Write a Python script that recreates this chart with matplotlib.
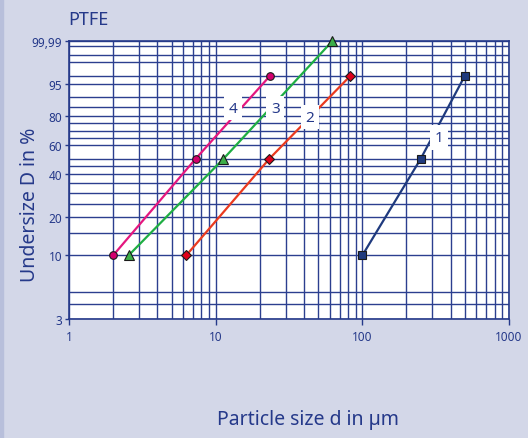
import numpy as np
import matplotlib
matplotlib.use("Agg")
import matplotlib.pyplot as plt
from matplotlib.patches import Rectangle

# ---- data ----
s1_x = [100, 250, 500]
s1_y = [10, 50, 97]
s2_x = [6.3, 23.2, 83]
s2_y = [10, 50, 97]
s3_x = [2.55, 11.3, 62.5]
s3_y = [10, 50, 99.9]
s4_x = [2.0, 7.3, 23.5]
s4_y = [10, 50, 97]

labels = ["1", "2", "3", "4"]
label_pos = [(335, 65), (44, 79), (25.5, 84.5), (13.1, 84.5)]

y_ticks = [3, 10, 20, 40, 60, 80, 95, 99.9]
y_ticklabels = ["3", "10", "20", "40", "60", "80", "95", "99,99"]
x_ticks = [1, 10, 100, 1000]
x_ticklabels = ["1", "10", "100", "1000"]
y_grid = [3, 4, 5, 10, 15, 20, 25, 30, 35, 40, 45, 50, 60, 65, 70, 75, 80,
          85, 90, 95, 97, 99, 99.5, 99.8, 99.9]
x_grid = [m * 10 ** e for e in range(0, 3) for m in range(1, 10)] + [1000]

BG = "#d3d7e8"
NAVY = "#25398a"
GRID = "#2c3f8f"

plt.rcParams['font.family'] = ['Noto Sans', 'DejaVu Sans']


def fwd(p):
    p = np.clip(np.asarray(p, dtype=float), 1e-6, 99.99999)
    return np.log(-np.log(1 - p / 100.0))


def inv(t):
    t = np.asarray(t, dtype=float)
    return 100.0 * (1 - np.exp(-np.exp(t)))


fig = plt.figure(figsize=(5.28, 4.39), dpi=100, facecolor=BG)
fig.patches.append(Rectangle((0, 0), 3 / 528, 1, transform=fig.transFigure,
                             color="#b8bfdb", zorder=0))
ax = fig.add_axes([69 / 528, 1 - 320 / 439, 440 / 528, 278 / 439])
ax.set_facecolor("white")
ax.set_xscale("log")
ax.set_yscale("function", functions=(fwd, inv))
ax.set_xlim(1, 1000)
ax.set_ylim(3, 99.9)

for g in y_grid:
    ax.axhline(g, color=GRID, lw=1.0, zorder=1)
for g in x_grid:
    ax.axvline(g, color=GRID, lw=1.0, zorder=1)

series = [
    (s1_x, s1_y, "#1f3a7e", "s", "#1f3a7e", 5.8),
    (s2_x, s2_y, "#ea3a1f", "D", "#e0001b", 5),
    (s3_x, s3_y, "#1fae43", "^", "#3cae48", 6.5),
    (s4_x, s4_y, "#e4177f", "o", "#d4006e", 5.5),
]
for xs, ys, lc, mk, mc, ms in series:
    ax.plot(xs, ys, color=lc, lw=1.6, zorder=3)
    ax.plot(xs, ys, linestyle="none", marker=mk, markersize=ms,
            markerfacecolor=mc, markeredgecolor="#1a1a1a", markeredgewidth=0.8,
            zorder=5, clip_on=False)

for lab, (lx, ly) in zip(labels, label_pos):
    ax.text(lx, ly, lab, color=NAVY, fontsize=11, ha="center", va="center", zorder=6,
            bbox=dict(boxstyle="square,pad=0.3", facecolor="white", edgecolor="none"))

ax.set_yticks(y_ticks)
ax.set_yticklabels(y_ticklabels)
ax.set_xticks(x_ticks)
ax.set_xticklabels(x_ticklabels)
ax.minorticks_off()
ax.tick_params(axis="y", colors=NAVY, labelsize=8.5, length=3, width=1, pad=2)
ax.tick_params(axis="x", colors=NAVY, labelsize=8.5, length=4, width=1, pad=4)
for sp in ax.spines.values():
    sp.set_color(NAVY)
    sp.set_linewidth(1.2)

fig.text(68 / 528, 1 - 20 / 439, "PTFE", color=NAVY, fontsize=13, ha="left", va="center")
fig.text(30 / 528, 1 - 205 / 439, "Undersize D in %", color=NAVY, fontsize=14,
         rotation=90, ha="center", va="center")
fig.text(308 / 528, 1 - 420 / 439, "Particle size d in µm", color=NAVY, fontsize=14,
         ha="center", va="center")

fig.savefig("out.png", dpi=100, facecolor=BG)
